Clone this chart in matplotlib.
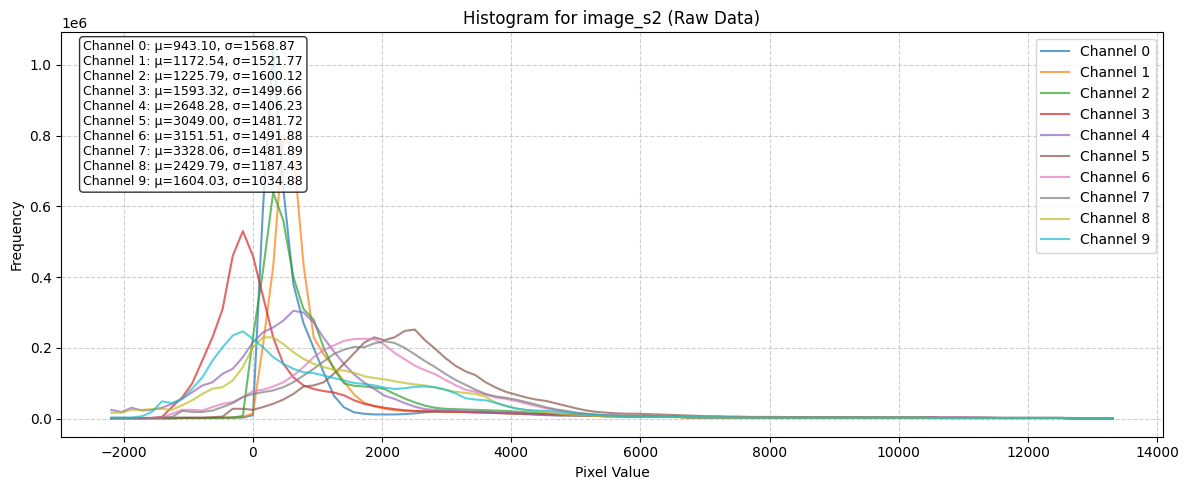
import numpy as np
import matplotlib
matplotlib.use("Agg")
import matplotlib.pyplot as plt

# histogram of image_s2, 100 bins shared by all channels
bin_lo = -2270
bin_hi = 13390
n_bins = 100

# counts per bin, in thousands
ch0 = [2, 2, 2, 2, 2, 2, 2, 2, 2, 2, 2, 2, 3, 3, 10, 600, 1040, 650, 380, 270,
       200, 130, 65, 32, 18, 14, 12, 12, 12, 13, 15, 18, 20, 20, 19, 19, 18, 17, 16, 15,
       14, 13, 12, 11, 10, 10, 9, 9, 8, 7, 7, 6, 6, 6, 5, 5, 5, 4, 4, 4,
       4, 4, 4, 3, 3, 3, 3, 3, 3, 3, 3, 3, 3, 3, 3, 3, 3, 3, 3, 3,
       3, 3, 2, 2, 2, 2, 2, 2, 2, 2, 2, 2, 2, 2, 2, 1, 1, 1, 1, 1]
ch1 = [1, 1, 1, 1, 1, 1, 1, 2, 2, 2, 3, 3, 3, 5, 15, 210, 430, 800, 760, 435,
       230, 182, 145, 105, 68, 45, 35, 28, 24, 22, 21, 21, 20, 20, 19, 19, 18, 17, 16, 15,
       14, 13, 12, 11, 10, 9, 9, 8, 8, 7, 7, 6, 6, 6, 5, 5, 5, 4, 4, 4,
       4, 4, 4, 3, 3, 3, 3, 3, 3, 3, 3, 3, 3, 3, 3, 3, 3, 3, 3, 3,
       3, 3, 2, 2, 2, 2, 2, 2, 2, 2, 2, 2, 2, 2, 2, 1, 1, 1, 1, 1]
ch2 = [1, 1, 1, 1, 1, 1, 1, 2, 2, 2, 2, 3, 3, 8, 230, 420, 640, 560, 400, 310,
       280, 200, 140, 100, 93, 91, 88, 84, 70, 57, 46, 37, 31, 28, 27, 26, 25, 24, 23, 22,
       20, 18, 16, 14, 12, 11, 10, 9, 8, 7, 7, 6, 6, 6, 5, 5, 5, 4, 4, 4,
       4, 4, 4, 4, 3, 3, 3, 3, 3, 3, 3, 3, 3, 3, 3, 3, 3, 3, 3, 3,
       3, 3, 2, 2, 2, 2, 2, 2, 2, 2, 2, 2, 2, 2, 2, 1, 1, 1, 1, 1]
ch3 = [2, 2, 2, 2, 2, 5, 33, 60, 100, 165, 230, 310, 460, 530, 460, 345, 230, 155, 117, 94,
       84, 78, 74, 66, 52, 42, 36, 31, 27, 24, 22, 21, 21, 20, 20, 19, 18, 18, 17, 16,
       15, 14, 13, 13, 12, 11, 11, 10, 9, 8, 7, 7, 6, 6, 5, 5, 5, 4, 4, 4,
       4, 4, 4, 3, 3, 3, 3, 3, 3, 3, 3, 3, 3, 3, 3, 3, 3, 3, 3, 3,
       3, 3, 2, 2, 2, 2, 2, 2, 2, 2, 2, 2, 2, 2, 2, 1, 1, 1, 1, 1]
ch4 = [25, 19, 31, 23, 25, 31, 42, 56, 75, 94, 103, 127, 141, 174, 216, 244, 258, 277, 305, 300,
       272, 228, 190, 155, 125, 102, 84, 65, 56, 44, 34, 27, 25, 23, 22, 21, 20, 19, 18, 17,
       16, 14, 12, 10, 9, 9, 9, 8, 8, 7, 7, 6, 6, 6, 5, 5, 5, 4, 4, 4,
       4, 4, 4, 3, 3, 3, 3, 3, 3, 3, 3, 3, 3, 3, 3, 3, 3, 3, 3, 3,
       3, 3, 3, 3, 3, 3, 3, 2, 2, 2, 2, 2, 2, 2, 2, 1, 1, 1, 1, 1]
ch5 = [2, 2, 2, 2, 2, 2, 3, 3, 3, 3, 4, 6, 28, 28, 25, 33, 42, 54, 70, 91,
       94, 103, 127, 155, 185, 215, 230, 222, 230, 248, 252, 222, 198, 172, 150, 134, 123, 103, 88, 76,
       68, 60, 54, 50, 43, 36, 29, 23, 19, 17, 15, 14, 14, 13, 12, 11, 10, 9, 8, 7,
       7, 6, 6, 5, 5, 5, 5, 4, 4, 4, 4, 4, 4, 4, 4, 3, 3, 3, 3, 3,
       3, 3, 3, 3, 3, 3, 3, 3, 2, 2, 2, 2, 2, 2, 2, 2, 1, 1, 1, 1]
ch6 = [1, 1, 1, 1, 2, 3, 14, 25, 25, 23, 33, 42, 47, 61, 78, 82, 91, 103, 122, 146,
       174, 194, 207, 220, 225, 226, 225, 209, 186, 168, 150, 137, 126, 110, 95, 82, 76, 68, 60, 56,
       50, 43, 36, 29, 24, 19, 15, 13, 11, 10, 9, 8, 8, 7, 7, 6, 6, 5, 5, 5,
       5, 4, 4, 4, 4, 4, 4, 3, 3, 3, 3, 3, 3, 3, 3, 3, 3, 3, 3, 3,
       3, 3, 3, 3, 3, 3, 2, 2, 2, 2, 2, 2, 2, 2, 2, 2, 1, 1, 1, 1]
ch7 = [1, 1, 1, 1, 2, 3, 5, 22, 19, 19, 23, 33, 44, 61, 70, 75, 80, 89, 103, 122,
       141, 162, 183, 195, 203, 202, 213, 219, 214, 200, 182, 163, 146, 127, 110, 96, 82, 70, 63, 59,
       54, 47, 40, 32, 26, 22, 17, 14, 11, 10, 9, 8, 8, 7, 7, 6, 6, 5, 5, 5,
       5, 4, 4, 4, 4, 4, 4, 3, 3, 3, 3, 3, 3, 3, 3, 3, 3, 3, 3, 3,
       3, 3, 3, 3, 3, 2, 2, 2, 2, 2, 2, 2, 2, 2, 2, 2, 1, 1, 1, 1]
ch8 = [17, 17, 25, 25, 27, 28, 25, 38, 52, 70, 85, 89, 108, 146, 202, 230, 230, 211, 188, 169,
       155, 146, 138, 136, 130, 120, 115, 111, 106, 101, 97, 94, 88, 82, 76, 73, 70, 62, 45, 36,
       29, 24, 21, 18, 15, 12, 10, 9, 7, 7, 6, 6, 6, 5, 5, 5, 4, 4, 4, 4,
       4, 3, 3, 3, 3, 3, 3, 3, 3, 3, 3, 3, 3, 3, 3, 3, 3, 3, 3, 3,
       3, 2, 2, 2, 2, 2, 2, 2, 2, 2, 2, 2, 2, 2, 2, 1, 1, 1, 1, 1]
ch9 = [3, 3, 3, 7, 19, 49, 44, 56, 85, 117, 164, 202, 235, 247, 225, 202, 174, 155, 141, 131,
       129, 122, 115, 108, 101, 98, 94, 88, 84, 86, 90, 91, 89, 82, 72, 58, 54, 52, 45, 36,
       29, 25, 23, 22, 20, 18, 15, 13, 11, 9, 8, 7, 7, 6, 6, 5, 5, 5, 4, 4,
       4, 4, 3, 3, 3, 3, 3, 3, 3, 3, 3, 3, 3, 3, 3, 3, 3, 3, 3, 3,
       3, 2, 2, 2, 2, 2, 2, 2, 2, 2, 2, 2, 2, 2, 2, 1, 1, 1, 1, 1]

channels = [ch0, ch1, ch2, ch3, ch4, ch5, ch6, ch7, ch8, ch9]
means = [943.10, 1172.54, 1225.79, 1593.32, 2648.28, 3049.00, 3151.51, 3328.06, 2429.79, 1604.03]
stds = [1568.87, 1521.77, 1600.12, 1499.66, 1406.23, 1481.72, 1491.88, 1481.89, 1187.43, 1034.88]

edges = np.linspace(bin_lo, bin_hi, n_bins + 1)
centers = (edges[:-1] + edges[1:]) / 2

fig, ax = plt.subplots(figsize=(12, 5), dpi=100)

for i, counts in enumerate(channels):
    ax.plot(centers, np.array(counts) * 1000, label=f"Channel {i}", alpha=0.7, linewidth=1.5)

# stats box
lines = [f"Channel {i}: μ={m:.2f}, σ={s:.2f}" for i, (m, s) in enumerate(zip(means, stds))]
ax.text(0.02, 0.98, "\n".join(lines), transform=ax.transAxes, fontsize=9,
        verticalalignment="top",
        bbox=dict(boxstyle="round", facecolor="white", alpha=0.8))

ax.set_title("Histogram for image_s2 (Raw Data)")
ax.set_xlabel("Pixel Value")
ax.set_ylabel("Frequency")
ax.legend(loc="upper right")
ax.grid(True, linestyle="--", alpha=0.6)

plt.tight_layout()
plt.savefig("out.png", dpi=100, bbox_inches="tight")
